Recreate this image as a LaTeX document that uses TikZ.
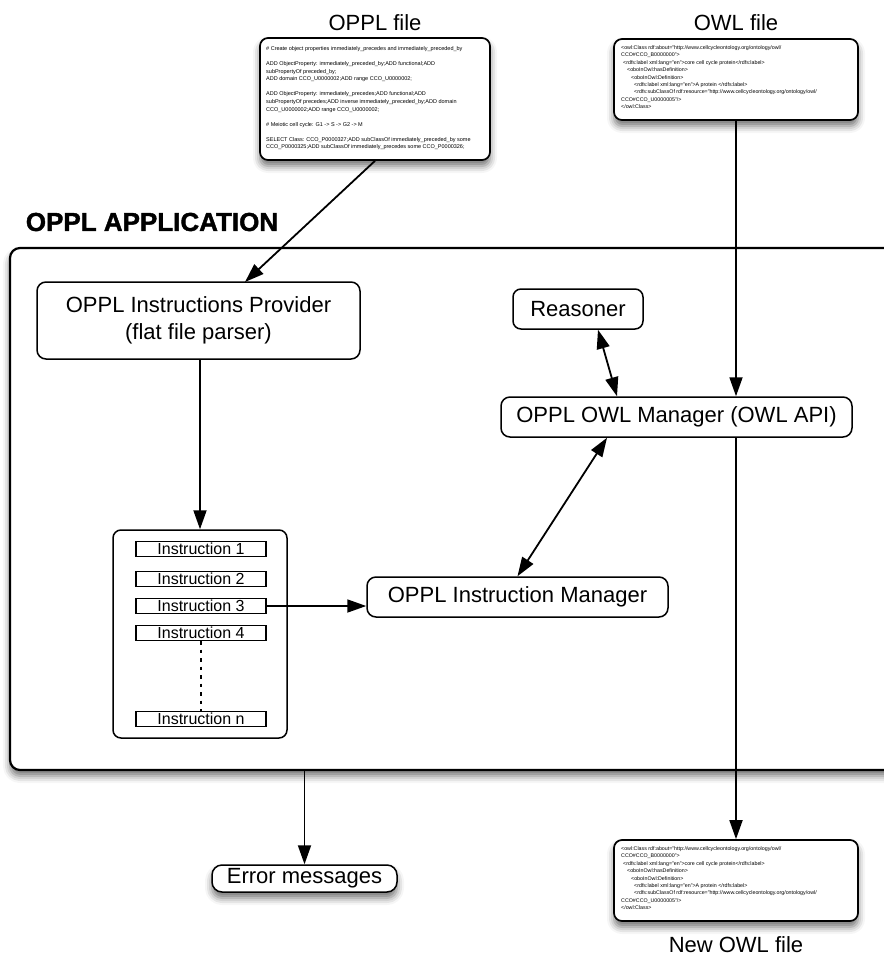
\documentclass[tikz,border=0pt]{standalone}
\usepackage{fontspec}
\setmainfont{Liberation Sans}
\newfontfamily\heavyfont{Liberation Sans}[BoldFeatures={FakeBold=1.5}]
\usetikzlibrary{arrows.meta,calc,shadows.blur}
\begin{document}
\begin{tikzpicture}[x=1pt,y=-1pt,
  shad/.style={blur shadow={shadow xshift=0pt,shadow yshift=-6pt,shadow blur radius=7pt,shadow opacity=55}},
  box/.style={draw,line width=1.5pt,rounded corners=9pt,fill=white,inner sep=0pt,align=center,font=\fontsize{22}{27}\selectfont},
  filebox/.style={draw,line width=1.7pt,rounded corners=8pt,fill=white,inner sep=0pt,shad},
  instr/.style={draw,line width=1.3pt,fill=white,inner sep=0pt,minimum width=130pt,minimum height=15pt,font=\fontsize{16}{16}\selectfont},
  title/.style={font=\fontsize{22}{22}\selectfont,inner sep=0pt},
  code/.style={anchor=north west,inner sep=0pt,align=left},
  tip/.style={Triangle[length=19pt,width=13pt]},
  arr/.style={line width=1.8pt,-{Triangle[length=19pt,width=13pt]}},
  darr/.style={line width=1.8pt,{Triangle[length=19pt,width=13pt]}-{Triangle[length=19pt,width=13pt]}}
]
\useasboundingbox (0,0) rectangle (884,962);
\clip (0,0) rectangle (884,962);

% titles
\node[title] (t1) at (375,23) {OPPL file};
\node[title] (t2) at (736,23) {OWL file};
\node[title] (t3) at (736,945) {New OWL file};
\node[inner sep=0pt,font=\fontsize{26}{26}\selectfont\heavyfont\bfseries] (apptitle) at (152,222) {OPPL APPLICATION};

% file boxes
\node[filebox,minimum width=230pt,minimum height=122pt] (oppl) at (375,99) {};
\node[code,font=\fontsize{5.5}{7.55}\selectfont] (oppltext) at (266,46.5) {%
\# Create object properties immediately\_precedes and immediately\_preceded\_by\\[7.55pt]
ADD ObjectProperty: immediately\_preceded\_by;ADD functional;ADD\\
subPropertyOf preceded\_by;\\
ADD domain CCO\_U0000002;ADD range CCO\_U0000002;\\[7.55pt]
ADD ObjectProperty: immediately\_precedes;ADD functional;ADD\\
subPropertyOf precedes;ADD inverse immediately\_preceded\_by;ADD domain\\
CCO\_U0000002;ADD range CCO\_U0000002;\\[7.55pt]
\# Meiotic cell cycle: G1 -> S -> G2 -> M\\[7.55pt]
SELECT Class: CCO\_P0000327;ADD subClassOf immediately\_preceded\_by some\\
CCO\_P0000325;ADD subClassOf immediately\_precedes some CCO\_P0000326;};

\node[filebox,minimum width=244pt,minimum height=81pt] (owl) at (736,79.5) {};
\node[code,font=\fontsize{5.3}{7.4}\selectfont] (owltext) at (621,45.5) {%
<owl:Class rdf:about="http://www.cellcycleontology.org/ontology/owl/\\
CCO\#CCO\_B0000000">\\
\hspace*{2pt}<rdfs:label xml:lang="en">core cell cycle protein</rdfs:label>\\
\hspace*{6pt}<oboInOwl:hasDefinition>\\
\hspace*{10pt}<oboInOwl:Definition>\\
\hspace*{13pt}<rdfs:label xml:lang="en">A protein </rdfs:label>\\
\hspace*{13pt}<rdfs:subClassOf rdf:resource="http://www.cellcycleontology.org/ontology/owl/\\
CCO\#CCO\_U0000005"/>\\
</owl:Class>};

\node[filebox,minimum width=244pt,minimum height=81pt] (newowl) at (736,880.5) {};
\node[code,font=\fontsize{5.3}{7.4}\selectfont] (newowltext) at (621,846.5) {%
<owl:Class rdf:about="http://www.cellcycleontology.org/ontology/owl/\\
CCO\#CCO\_B0000000">\\
\hspace*{2pt}<rdfs:label xml:lang="en">core cell cycle protein</rdfs:label>\\
\hspace*{6pt}<oboInOwl:hasDefinition>\\
\hspace*{10pt}<oboInOwl:Definition>\\
\hspace*{13pt}<rdfs:label xml:lang="en">A protein </rdfs:label>\\
\hspace*{13pt}<rdfs:subClassOf rdf:resource="http://www.cellcycleontology.org/ontology/owl/\\
CCO\#CCO\_U0000005"/>\\
</owl:Class>};

% application box
\node[draw,line width=2.2pt,rounded corners=10pt,fill=white,inner sep=0pt,shad,minimum width=890pt,minimum height=522pt] (app) at (455,509) {};

% inner nodes
\node[box,minimum width=323pt,minimum height=77pt] (prov) at (198.5,320.5) {OPPL Instructions Provider\\(flat file parser)};
\node[box,rounded corners=8pt,minimum width=130pt,minimum height=40pt] (reas) at (578,309) {Reasoner};
\node[box,minimum width=351pt,minimum height=40pt] (owlm) at (676.5,417) {OPPL OWL Manager (OWL API)};
\node[box,minimum width=301pt,minimum height=40pt] (mgr) at (517.5,597) {OPPL Instruction Manager};
\node[draw,line width=1.5pt,rounded corners=8pt,fill=white,minimum width=174pt,minimum height=208pt] (list) at (200,634) {};
\node[instr] (i1) at (201,549) {Instruction 1};
\node[instr] (i2) at (201,579) {Instruction 2};
\node[instr] (i3) at (201,606) {Instruction 3};
\node[instr] (i4) at (201,633) {Instruction 4};
\node[instr] (in) at (201,719) {Instruction n};

\node[box,rounded corners=10pt,shad,minimum width=185pt,minimum height=27pt] (err) at (304.5,878.5) {Error messages};

% connectors
\coordinate (provin) at (245,282);
\draw[arr] (oppl.south) -- (provin);
\draw[arr] (owl.south) -- (owl.south |- owlm.north);
\draw[arr] (newowl.north |- owlm.south) -- (newowl.north);
\draw[darr] ($(reas.south)+(20,0)$) -- ($(owlm.north)+(-59.5,0)$);
\draw[darr] (mgr.north) -- ($(owlm.south)+(-69.5,0)$);
\draw[arr] (list.north |- prov.south) -- (list.north);
\draw[arr] (i3.east) -- (i3.east -| mgr.west);
\draw[line width=1.6pt,dash pattern=on 3.5pt off 5pt] (i4.south) -- (in.north);
\draw[arr] (err.north |- app.south) -- (err.north);
\end{tikzpicture}
\end{document}
